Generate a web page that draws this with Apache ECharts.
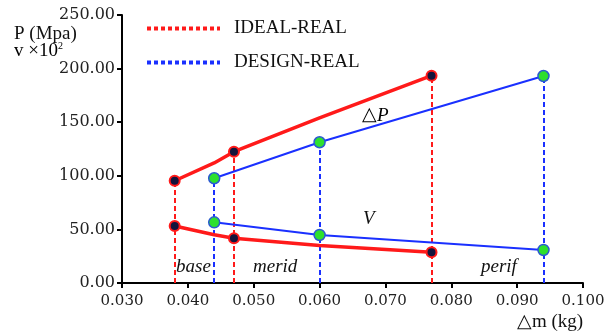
<!DOCTYPE html>
<html>
<head>
<meta charset="utf-8">
<script src="https://cdn.jsdelivr.net/npm/echarts@6/dist/echarts.min.js"></script>
<style>
  html, body { margin: 0; padding: 0; background: #ffffff; }
  #chart { width: 614px; height: 335px; }
</style>
</head>
<body>
<div id="chart"></div>
<script>
// Mass increment (kg) at each design point
const idealMass  = [0.038, 0.044, 0.047, 0.060, 0.077];
const designMass = [0.044, 0.060, 0.094];

// IDEAL-REAL: pressure drop (Mpa) and velocity (x10^2)
const idealP = [95.4, 112, 122.5, 154, 193.4];
const idealV = [53.2, 45, 41.7, 35, 28.6];
// Which ideal points carry a marker
const idealMarked = [true, false, true, false, true];

// DESIGN-REAL: pressure drop and velocity
const designP = [97.7, 131.3, 193.1];
const designV = [56.6, 44.8, 30.8];

// Axis ticks
const yTicks = [0, 50, 100, 150, 200, 250];
const xTicks = [0.03, 0.04, 0.05, 0.06, 0.07, 0.08, 0.09, 0.10];

const RED = '#ff1a1a';
const BLUE = '#1a30ff';
const SERIF = '"Liberation Serif", "Times New Roman", serif';
const TICKFONT = '"DejaVu Serif", serif';

const chart = echarts.init(document.getElementById('chart'), null, { renderer: 'canvas' });

function pairs(xs, ys, marked) {
  return xs.map((x, i) => {
    const item = { value: [x, ys[i]] };
    if (marked && !marked[i]) item.symbol = 'none';
    return item;
  });
}

function drops(xs, ps, marked) {
  const out = [];
  xs.forEach((x, i) => {
    if (marked && !marked[i]) return;
    out.push([{ coord: [x, 0] }, { coord: [x, ps[i]] }]);
  });
  return out;
}

const redMarker = { color: '#14143c', borderColor: RED, borderWidth: 2 };
const greenMarker = { color: '#2ee02e', borderColor: '#2a5ad0', borderWidth: 1.5 };

const option = {
  backgroundColor: '#ffffff',
  animation: false,
  grid: { left: 122, right: 31, top: 15, bottom: 52, containLabel: false },
  legend: {
    orient: 'vertical',
    left: 140,
    top: 14,
    itemWidth: 73,
    itemHeight: 14,
    itemGap: 15,
    data: ['IDEAL-REAL', 'DESIGN-REAL'],
    lineStyle: { width: 4, type: [4, 3] },
    itemStyle: { opacity: 0, borderWidth: 0 },
    textStyle: { fontFamily: SERIF, fontSize: 19, color: '#111', padding: [0, 0, 0, 9] }
  },
  xAxis: {
    type: 'value',
    min: xTicks[0],
    max: xTicks[xTicks.length - 1],
    interval: 0.01,
    axisLine: { onZero: false, lineStyle: { color: '#000', width: 2 } },
    axisTick: { show: true, length: 5, lineStyle: { color: '#000', width: 2 } },
    axisLabel: {
      margin: 11,
      fontFamily: TICKFONT, fontSize: 15, color: '#222',
      formatter: v => v.toFixed(3)
    },
    splitLine: { show: false }
  },
  yAxis: {
    type: 'value',
    min: yTicks[0],
    max: yTicks[yTicks.length - 1],
    interval: 50,
    axisLine: { show: true, lineStyle: { color: '#000', width: 2 } },
    axisTick: { show: true, length: 5, lineStyle: { color: '#000', width: 2 } },
    axisLabel: {
      margin: 7,
      fontFamily: TICKFONT, fontSize: 16, color: '#222',
      formatter: v => v.toFixed(2)
    },
    splitLine: { show: false }
  },
  series: [
    {
      name: 'IDEAL-REAL',
      type: 'line',
      data: [],
      symbol: 'none',
      lineStyle: { color: RED, width: 2, type: [5, 3] },
      itemStyle: { color: RED },
      markLine: {
        silent: true, symbol: 'none', label: { show: false },
        lineStyle: { color: RED, width: 2, type: [5, 3] },
        data: drops(idealMass, idealP, idealMarked)
      }
    },
    {
      name: 'DESIGN-REAL',
      type: 'line',
      data: [],
      symbol: 'none',
      lineStyle: { color: BLUE, width: 2, type: [5, 3] },
      itemStyle: { color: BLUE },
      markLine: {
        silent: true, symbol: 'none', label: { show: false },
        lineStyle: { color: BLUE, width: 2, type: [5, 3] },
        data: drops(designMass, designP)
      }
    },
    {
      name: 'ideal P', type: 'line', z: 5,
      data: pairs(idealMass, idealP, idealMarked),
      symbol: 'circle', symbolSize: 10,
      lineStyle: { color: RED, width: 3.5 },
      itemStyle: redMarker
    },
    {
      name: 'ideal V', type: 'line', z: 5,
      data: pairs(idealMass, idealV, idealMarked),
      symbol: 'circle', symbolSize: 10,
      lineStyle: { color: RED, width: 3.5 },
      itemStyle: redMarker
    },
    {
      name: 'design P', type: 'line', z: 6,
      data: pairs(designMass, designP),
      symbol: 'circle', symbolSize: 11,
      lineStyle: { color: BLUE, width: 2 },
      itemStyle: greenMarker
    },
    {
      name: 'design V', type: 'line', z: 6,
      data: pairs(designMass, designV),
      symbol: 'circle', symbolSize: 11,
      lineStyle: { color: BLUE, width: 2 },
      itemStyle: greenMarker
    }
  ],
  graphic: [
    {
      type: 'text', left: 14, top: 25,
      style: { text: 'P (Mpa)', font: '19px ' + SERIF, fill: '#111' }
    },
    {
      type: 'text', left: 14, top: 41,
      style: {
        text: '{a|v ×10}{s|2}',
        rich: {
          a: { fontFamily: SERIF, fontSize: 19, color: '#111' },
          s: { fontFamily: SERIF, fontSize: 10, color: '#111', verticalAlign: 'top', padding: [0, 0, 10, 0] }
        }
      }
    },
    {
      type: 'text', left: 517, top: 313,
      style: { text: '△m (kg)', font: '19px ' + SERIF, fill: '#111' }
    },
    {
      type: 'text', left: 362, top: 106,
      style: {
        text: '{t|△}{p|P}',
        rich: {
          t: { fontFamily: SERIF, fontSize: 19, color: '#111' },
          p: { fontFamily: SERIF, fontSize: 19, fontStyle: 'italic', color: '#111' }
        }
      }
    },
    {
      type: 'text', left: 363, top: 209,
      style: { text: 'V', font: 'italic 19px ' + SERIF, fill: '#111' }
    },
    {
      type: 'text', left: 176, top: 257,
      style: { text: 'base', font: 'italic 19px ' + SERIF, fill: '#111' }
    },
    {
      type: 'text', left: 253, top: 257,
      style: { text: 'merid', font: 'italic 19px ' + SERIF, fill: '#111' }
    },
    {
      type: 'text', left: 481, top: 257,
      style: { text: 'perif', font: 'italic 19px ' + SERIF, fill: '#111' }
    }
  ]
};

chart.setOption(option);
</script>
</body>
</html>
